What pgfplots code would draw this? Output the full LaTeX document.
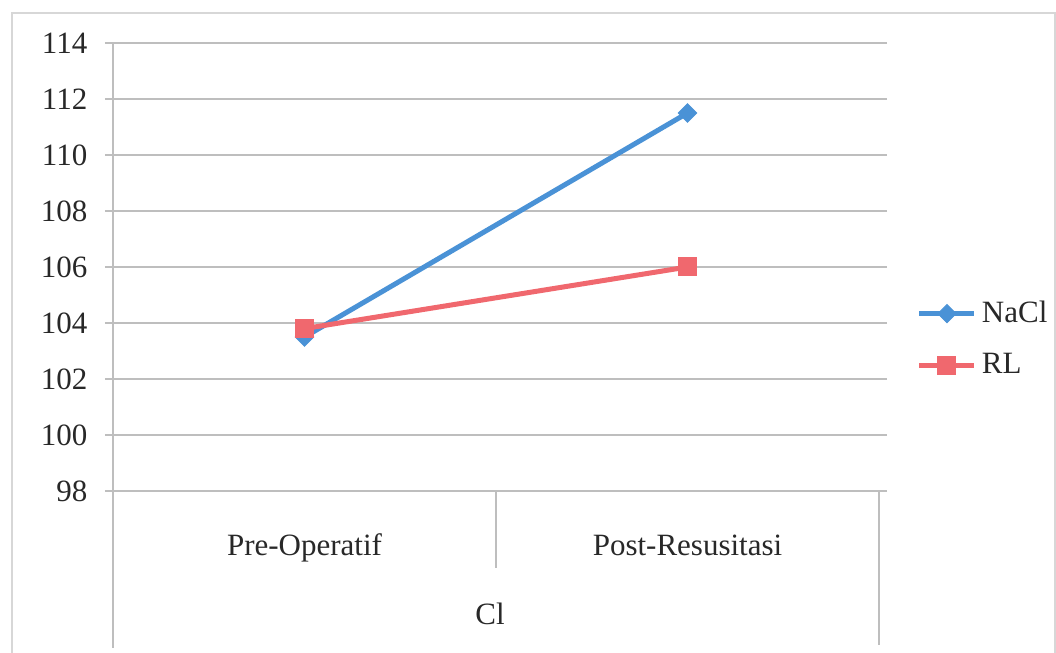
\documentclass[border=0pt]{standalone}
\usepackage{fontspec}
\setmainfont{Liberation Serif}
\usepackage{pgfplots}
\pgfplotsset{compat=1.18}
\definecolor{nacl}{RGB}{74,146,214}
\definecolor{rl}{RGB}{240,104,110}
\definecolor{gridc}{RGB}{190,190,190}
\definecolor{framec}{RGB}{215,215,215}
\definecolor{textc}{RGB}{40,40,40}

\begin{document}
\fontsize{15.5pt}{18pt}\selectfont
\begin{tikzpicture}[x=1pt,y=1pt]
% outer chart frame
\draw[framec, line width=0.8pt] (6,0) -- (6,320) -- (527.5,320) -- (527.5,0);
\begin{axis}[
  at={(56.5pt,81pt)}, anchor=south west, scale only axis,
  width=383pt, height=224pt,
  xmin=-0.5, xmax=1.5, ymin=98, ymax=114,
  ytick={98,100,...,114},
  xtick={0,1}, xticklabels={Pre-Operatif, Post-Resusitasi},
  axis line style={draw=none},
  ymajorgrids, grid style={gridc, line width=0.7pt},
  tick align=outside, major tick length=4pt,
  ytick style={gridc, line width=0.7pt},
  xtick style={draw=none},
  yticklabel style={anchor=east, xshift=-3.5pt, text=textc, font=\fontsize{15.5pt}{18pt}\selectfont},
  xticklabel style={anchor=base, yshift=-28.5pt, text=textc, font=\fontsize{15.5pt}{18pt}\selectfont},
  /pgf/number format/assume math mode=true,
  legend style={at={(1.049,0.339)}, anchor=west, draw=none, fill=none,
    inner sep=0pt, row sep=8pt, text=textc,
    nodes={inner sep=2.5pt},
    font=\fontsize{15.5pt}{18pt}\selectfont, cells={anchor=west}},
  legend image code/.code={\draw[mark repeat=2, mark phase=2] plot coordinates {(0pt,0pt) (13.75pt,0pt) (27.5pt,0pt)};},
  clip=false,
]
\addplot[nacl, line width=2.5pt, mark=square*, mark size=3.2pt,
  mark options={rotate=45, fill=nacl, draw=nacl, line width=0.5pt}]
  coordinates {(0,103.5) (1,111.5)};
\addlegendentry{NaCl}
\addplot[rl, line width=2.5pt, mark=square*, mark size=4.5pt,
  mark options={fill=rl, draw=rl, line width=0.5pt}]
  coordinates {(0,103.8) (1,106.0)};
\addlegendentry{RL}
% category table lines below the plot area
\draw[gridc, line width=0.7pt] (rel axis cs:0,1) -- (rel axis cs:0,0) -- ([yshift=-78.5pt]rel axis cs:0,0);
\draw[gridc, line width=0.7pt] (rel axis cs:0.5,0) -- ([yshift=-38.5pt]rel axis cs:0.5,0);
\draw[gridc, line width=0.7pt] (rel axis cs:1,0) -- ([yshift=-77pt]rel axis cs:1,0);
\node[anchor=base, text=textc, inner sep=0pt] at ([xshift=-3pt, yshift=-67pt]rel axis cs:0.5,0) {Cl};
\end{axis}
\pgfresetboundingbox
\path[use as bounding box] (0,0) rectangle (528,326.5);
\end{tikzpicture}
\end{document}
